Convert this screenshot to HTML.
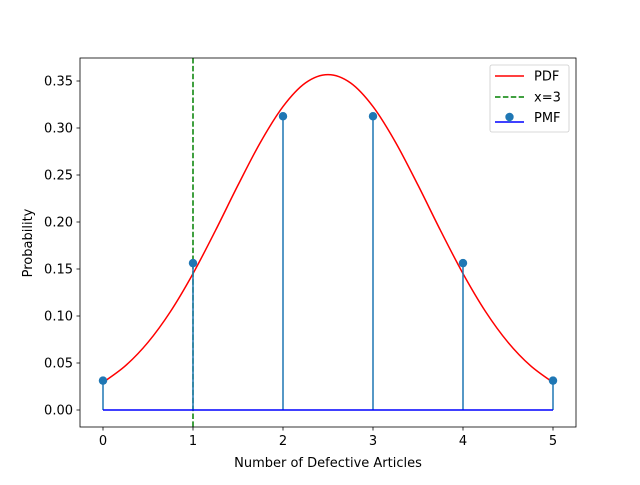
<!DOCTYPE html>
<html><head><meta charset="utf-8"><style>
body{margin:0;background:#fff}
text{font-family:"DejaVu Sans","Liberation Sans",sans-serif;font-size:13px;fill:#000}
</style></head><body>
<svg id="chart" width="640" height="480" viewBox="0 0 640 480">
<rect width="640" height="480" fill="#fff"/>
<g id="plot"></g>
</svg>
<script>
const xCats=[0,1,2,3,4,5];
const pmfValues=[0.03125,0.15625,0.3125,0.3125,0.15625,0.03125];
const pdfX=[0,0.25,0.5,0.75,1,1.25,1.5,1.75,2,2.25,2.5,2.75,3,3.25,3.5,3.75,4,4.25,4.5,4.75,5];
const pdfY=[0.0293,0.0471,0.0720,0.1048,0.1451,0.1910,0.2392,0.2849,0.3228,0.3480,0.3568,0.3480,0.3228,0.2849,0.2392,0.1910,0.1451,0.1048,0.0720,0.0471,0.0293];
const vlineX=1;
const yTicks=[0,0.05,0.10,0.15,0.20,0.25,0.30,0.35];
const yTickLabels=["0.00","0.05","0.10","0.15","0.20","0.25","0.30","0.35"];
const xTickLabels=["0","1","2","3","4","5"];
const NS="http://www.w3.org/2000/svg";
const L=80,R=576,T=58,B=427;
function sx(v){return 103+v*90;}
function sy(v){return 410-v*940;}
const g=document.getElementById('plot');
function mk(tag,attrs,parent){const e=document.createElementNS(NS,tag);for(const k in attrs)e.setAttribute(k,attrs[k]);(parent||g).appendChild(e);return e;}
const pts=pdfX.map((x,i)=>[sx(x),sy(pdfY[i])]);
let d=`M${pts[0][0]},${pts[0][1]}`;
for(let i=0;i<pts.length-1;i++){const p0=pts[Math.max(0,i-1)],p1=pts[i],p2=pts[i+1],p3=pts[Math.min(pts.length-1,i+2)];
d+=` C${p1[0]+(p2[0]-p0[0])/6},${p1[1]+(p2[1]-p0[1])/6} ${p2[0]-(p3[0]-p1[0])/6},${p2[1]-(p3[1]-p1[1])/6} ${p2[0]},${p2[1]}`;}
const curve=mk('path',{d:d,fill:'none',stroke:'#ff0000','stroke-width':1.5});


const vl=mk('line',{x1:sx(vlineX),x2:sx(vlineX),y1:T,y2:B,stroke:'#008000','stroke-width':1.5,'stroke-dasharray':'5.5,2.4'});


xCats.forEach((x,i)=>{
const s=mk('line',{x1:sx(x),x2:sx(x),y1:sy(0),y2:sy(pmfValues[i]),stroke:'#1f77b4','stroke-width':1.5});


});
const bl=mk('line',{x1:sx(xCats[0]),x2:sx(xCats[xCats.length-1]),y1:sy(0),y2:sy(0),stroke:'#0000ff','stroke-width':1.5});


xCats.forEach((x,i)=>{
const c=mk('circle',{cx:sx(x),cy:sy(pmfValues[i]),r:4.2,fill:'#1f77b4'});


});
const fr=mk('rect',{x:L,y:T,width:R-L,height:B-T,fill:'none',stroke:'#000','stroke-width':0.8});


xCats.forEach((x,i)=>{
mk('line',{x1:sx(x),x2:sx(x),y1:B,y2:B+3.5,stroke:'#000','stroke-width':0.8});
const t=mk('text',{x:sx(x),y:B+18,'text-anchor':'middle'});t.textContent=xTickLabels[i];


});
yTicks.forEach((v,i)=>{
mk('line',{x1:L-3.5,x2:L,y1:sy(v),y2:sy(v),stroke:'#000','stroke-width':0.8});
const t=mk('text',{x:L-7,y:sy(v)+4.5,'text-anchor':'end'});t.textContent=yTickLabels[i];


});
const xt=mk('text',{x:328,y:467,'text-anchor':'middle'});xt.textContent='Number of Defective Articles';


const yt=mk('text',{x:32,y:243,'text-anchor':'middle',transform:'rotate(-90 32 243)'});yt.textContent='Probability';


const lg=mk('g',{});


mk('rect',{x:490,y:65,width:79,height:67,rx:2,fill:'#fff','fill-opacity':0.8,stroke:'#ccc','stroke-width':0.8},lg);
mk('line',{x1:495,x2:524,y1:76,y2:76,stroke:'#ff0000','stroke-width':1.5},lg);
mk('line',{x1:495,x2:524,y1:97,y2:97,stroke:'#008000','stroke-width':1.5,'stroke-dasharray':'5.5,2.4'},lg);
mk('line',{x1:495,x2:524,y1:122,y2:122,stroke:'#0000ff','stroke-width':1.5},lg);
mk('line',{x1:509.5,x2:509.5,y1:117,y2:122,stroke:'#1f77b4','stroke-width':1.5},lg);
mk('circle',{cx:509.5,cy:117,r:4.2,fill:'#1f77b4'},lg);
[['PDF',80.5],['x=3',101.5],['PMF',122]].forEach(([s,y])=>{const t=mk('text',{x:534,y:y},lg);t.textContent=s;

});
</script>
</body></html>
